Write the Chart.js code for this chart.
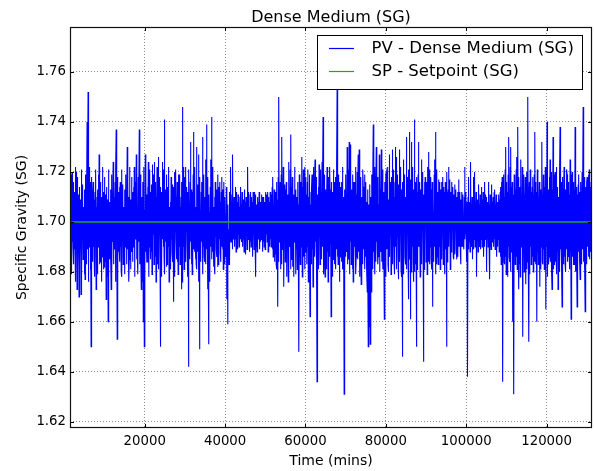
<!DOCTYPE html>
<html><head><meta charset="utf-8">
<script src="https://cdn.jsdelivr.net/npm/chart.js@4"></script>
<style>html,body{margin:0;padding:0;background:#fff}#wrap{width:594px;height:471px}</style>
</head><body><div id="wrap"><canvas id="c" width="594" height="471"></canvas></div>
<script>
const chartTitle = 'Dense Medium (SG)';
const xLabel = 'Time (mins)';
const yLabel = 'Specific Gravity (SG)';
const pvLabel = 'PV - Dense Medium (SG)';
const spLabel = 'SP - Setpoint (SG)';

// PV sampled every pvStep minutes starting at pvStart
const pvStart = 1400, pvStep = 83.3;
const pvValues = [
1.712,1.686,1.713,1.683,1.719,1.679,1.720,1.692,1.707,1.690,1.716,1.683,1.712,1.689,1.710,1.688,1.722,1.676,1.720,1.694,1.705,1.673,1.718,1.681,1.700,1.688,1.711,1.670,1.714,1.684,
1.706,1.690,1.709,1.671,1.721,1.678,1.708,1.693,1.715,1.685,1.706,1.686,1.703,1.679,1.713,1.677,1.719,1.692,1.708,1.683,1.707,1.740,1.689,1.716,1.752,1.676,1.710,1.690,1.722,1.694,
1.716,1.681,1.705,1.650,1.718,1.688,1.705,1.684,1.711,1.716,1.690,1.714,1.686,1.709,1.678,1.712,1.693,1.721,1.673,1.706,1.685,1.710,1.679,1.713,1.690,1.719,1.692,1.727,1.683,1.707,
1.684,1.716,1.689,1.708,1.676,1.710,1.686,1.722,1.694,1.712,1.681,1.705,1.682,1.718,1.688,1.702,1.684,1.711,1.669,1.714,1.690,1.700,1.678,1.709,1.660,1.721,1.693,1.708,1.685,1.706,
1.694,1.713,1.686,1.673,1.719,1.679,1.700,1.692,1.707,1.724,1.683,1.716,1.690,1.710,1.689,1.716,1.676,1.722,1.737,1.694,1.705,1.653,1.718,1.681,1.712,1.688,1.711,1.690,1.714,1.684,
1.716,1.690,1.709,1.680,1.721,1.678,1.710,1.693,1.715,1.683,1.706,1.686,1.704,1.679,1.713,1.690,1.719,1.692,1.712,1.683,1.707,1.730,1.689,1.716,1.695,1.710,1.676,1.685,1.722,1.694,
1.709,1.681,1.705,1.692,1.718,1.688,1.712,1.684,1.711,1.690,1.714,1.690,1.722,1.678,1.709,1.696,1.716,1.693,1.727,1.685,1.721,1.688,1.706,1.679,1.718,1.692,1.713,1.737,1.683,1.707,
1.684,1.719,1.686,1.673,1.710,1.689,1.701,1.676,1.716,1.660,1.722,1.694,1.650,1.705,1.681,1.727,1.688,1.718,1.692,1.711,1.684,1.684,1.714,1.690,1.724,1.678,1.709,1.690,1.721,1.693,
1.712,1.685,1.706,1.688,1.715,1.679,1.723,1.692,1.713,1.695,1.719,1.683,1.724,1.689,1.707,1.686,1.716,1.676,1.710,1.694,1.722,1.683,1.705,1.688,1.726,1.681,1.718,1.700,1.711,1.684,
1.650,1.714,1.690,1.712,1.678,1.709,1.724,1.693,1.721,1.690,1.716,1.686,1.741,1.679,1.713,1.700,1.692,1.707,1.682,1.719,1.683,1.714,1.689,1.710,1.690,1.722,1.676,1.681,1.706,1.694,
1.708,1.681,1.718,1.693,1.711,1.688,1.715,1.684,1.705,1.668,1.714,1.690,1.720,1.678,1.709,1.696,1.721,1.693,1.710,1.685,1.716,1.684,1.707,1.679,1.719,1.692,1.713,1.690,1.719,1.683,
1.706,1.689,1.710,1.673,1.716,1.676,1.746,1.694,1.722,1.690,1.705,1.681,1.683,1.718,1.688,1.722,1.684,1.711,1.696,1.714,1.690,1.712,1.678,1.709,1.642,1.721,1.693,1.700,1.685,1.716,
1.732,1.692,1.707,1.683,1.713,1.679,1.712,1.686,1.719,1.736,1.689,1.710,1.688,1.722,1.694,1.685,1.706,1.683,1.730,1.681,1.715,1.700,1.688,1.711,1.727,1.676,1.714,1.649,1.718,1.690,
1.700,1.684,1.712,1.716,1.692,1.707,1.734,1.679,1.716,1.690,1.719,1.686,1.684,1.710,1.693,1.725,1.683,1.721,1.739,1.689,1.705,1.673,1.718,1.681,1.651,1.711,1.688,1.704,1.676,1.714,
1.725,1.690,1.713,1.742,1.685,1.709,1.688,1.722,1.692,1.682,1.706,1.684,1.710,1.679,1.716,1.694,1.714,1.689,1.713,1.686,1.707,1.682,1.719,1.683,1.714,1.693,1.710,1.693,1.716,1.688,
1.708,1.684,1.712,1.718,1.690,1.706,1.689,1.713,1.681,1.716,1.693,1.710,1.683,1.709,1.687,1.700,1.686,1.714,1.669,1.711,1.690,1.659,1.707,1.688,1.697,1.683,1.712,1.683,1.710,1.692,
1.722,1.692,1.708,1.700,1.711,1.689,1.727,1.695,1.706,1.693,1.710,1.690,1.698,1.707,1.693,1.714,1.688,1.712,1.690,1.708,1.692,1.689,1.711,1.695,1.708,1.690,1.706,1.697,1.710,1.693,
1.714,1.695,1.707,1.692,1.712,1.690,1.690,1.706,1.693,1.709,1.688,1.711,1.713,1.692,1.708,1.687,1.710,1.695,1.702,1.689,1.707,1.722,1.693,1.712,1.694,1.706,1.690,1.688,1.711,1.692,
1.712,1.690,1.710,1.698,1.708,1.693,1.686,1.712,1.695,1.707,1.689,1.706,1.712,1.692,1.711,1.678,1.707,1.690,1.700,1.688,1.710,1.710,1.695,1.708,1.693,1.712,1.689,1.689,1.706,1.692,
1.708,1.693,1.711,1.696,1.710,1.688,1.690,1.707,1.692,1.710,1.690,1.708,1.702,1.689,1.712,1.693,1.711,1.695,1.706,1.692,1.707,1.712,1.688,1.710,1.695,1.708,1.690,1.693,1.712,1.693,
1.708,1.690,1.711,1.697,1.714,1.689,1.718,1.686,1.707,1.693,1.713,1.692,1.684,1.710,1.687,1.712,1.683,1.716,1.681,1.709,1.690,1.666,1.718,1.684,1.750,1.692,1.712,1.694,1.716,1.681,
1.690,1.719,1.683,1.734,1.689,1.710,1.697,1.722,1.679,1.674,1.707,1.692,1.715,1.684,1.713,1.696,1.716,1.686,1.678,1.711,1.690,1.708,1.676,1.718,1.724,1.693,1.709,1.690,1.721,1.681,
1.735,1.685,1.714,1.694,1.718,1.688,1.682,1.706,1.678,1.711,1.692,1.722,1.696,1.713,1.684,1.679,1.710,1.689,1.705,1.681,1.716,1.709,1.694,1.707,1.648,1.719,1.686,1.702,1.683,1.711,
1.716,1.690,1.709,1.726,1.678,1.714,1.690,1.721,1.693,1.686,1.705,1.681,1.722,1.688,1.718,1.694,1.711,1.684,1.683,1.716,1.690,1.721,1.676,1.710,1.696,1.719,1.692,1.662,1.707,1.685,
1.712,1.683,1.713,1.719,1.689,1.707,1.674,1.722,1.679,1.704,1.686,1.716,1.725,1.692,1.710,1.690,1.718,1.684,1.636,1.711,1.690,1.700,1.714,1.681,1.723,1.694,1.709,1.683,1.721,1.688,
1.712,1.685,1.706,1.724,1.690,1.716,1.742,1.679,1.711,1.695,1.719,1.684,1.678,1.713,1.692,1.712,1.681,1.709,1.722,1.688,1.714,1.676,1.718,1.683,1.700,1.686,1.722,1.713,1.691,1.707,
1.662,1.716,1.684,1.712,1.678,1.710,1.685,1.721,1.690,1.716,1.683,1.713,1.694,1.718,1.681,1.710,1.689,1.722,1.753,1.686,1.707,1.683,1.719,1.692,1.716,1.676,1.711,1.686,1.714,1.688,
1.712,1.684,1.716,1.693,1.722,1.681,1.684,1.710,1.690,1.631,1.713,1.679,1.711,1.686,1.719,1.692,1.707,1.688,1.730,1.683,1.714,1.690,1.721,1.685,1.732,1.679,1.709,1.731,1.692,1.718,
1.683,1.713,1.688,1.702,1.681,1.719,1.676,1.716,1.684,1.716,1.690,1.710,1.696,1.722,1.679,1.686,1.711,1.692,1.720,1.685,1.714,1.727,1.688,1.707,1.729,1.678,1.716,1.684,1.718,1.686,
1.675,1.710,1.690,1.706,1.683,1.721,1.714,1.689,1.712,1.694,1.719,1.681,1.713,1.686,1.716,1.690,1.708,1.679,1.672,1.713,1.684,1.650,1.707,1.676,1.658,1.715,1.681,1.651,1.710,1.686,
1.672,1.719,1.690,1.712,1.681,1.716,1.739,1.688,1.710,1.688,1.722,1.679,1.705,1.684,1.714,1.730,1.692,1.711,1.690,1.718,1.683,1.689,1.707,1.686,1.727,1.680,1.719,1.693,1.713,1.688,
1.729,1.684,1.710,1.700,1.721,1.681,1.683,1.712,1.690,1.661,1.716,1.685,1.705,1.678,1.719,1.720,1.689,1.713,1.695,1.722,1.683,1.680,1.709,1.688,1.727,1.686,1.716,1.700,1.714,1.679,
1.681,1.718,1.692,1.729,1.683,1.711,1.690,1.721,1.684,1.710,1.679,1.716,1.730,1.690,1.709,1.726,1.681,1.719,1.694,1.712,1.686,1.677,1.715,1.688,1.729,1.684,1.710,1.700,1.722,1.681,
1.678,1.713,1.689,1.646,1.716,1.683,1.725,1.679,1.711,1.700,1.719,1.686,1.683,1.710,1.692,1.734,1.681,1.718,1.700,1.714,1.684,1.669,1.721,1.688,1.736,1.685,1.713,1.661,1.717,1.680,
1.732,1.686,1.710,1.690,1.722,1.684,1.676,1.713,1.690,1.741,1.680,1.716,1.683,1.711,1.687,1.650,1.718,1.681,1.712,1.684,1.719,1.732,1.690,1.709,1.690,1.716,1.678,1.682,1.713,1.689,
1.725,1.683,1.714,1.700,1.720,1.686,1.644,1.711,1.681,1.716,1.688,1.718,1.700,1.713,1.684,1.690,1.716,1.679,1.722,1.689,1.710,1.728,1.684,1.721,1.683,1.712,1.690,1.700,1.718,1.685,
1.713,1.681,1.716,1.666,1.710,1.688,1.703,1.684,1.719,1.725,1.690,1.711,1.736,1.679,1.714,1.683,1.721,1.686,1.700,1.712,1.683,1.717,1.688,1.709,1.690,1.716,1.681,1.686,1.713,1.690,
1.716,1.685,1.710,1.700,1.718,1.683,1.683,1.714,1.690,1.712,1.679,1.716,1.702,1.689,1.711,1.650,1.720,1.684,1.712,1.686,1.713,1.722,1.690,1.708,1.696,1.717,1.681,1.684,1.712,1.688,
1.716,1.688,1.710,1.698,1.714,1.686,1.685,1.711,1.691,1.715,1.687,1.709,1.700,1.713,1.689,1.685,1.710,1.692,1.712,1.686,1.712,1.717,1.690,1.708,1.690,1.712,1.688,1.683,1.709,1.691,
1.712,1.690,1.707,1.690,1.711,1.692,1.702,1.689,1.710,1.722,1.693,1.706,1.695,1.712,1.690,1.684,1.708,1.693,1.638,1.710,1.689,1.718,1.692,1.708,1.700,1.688,1.711,1.724,1.693,1.707,
1.690,1.710,1.692,1.685,1.707,1.689,1.718,1.693,1.711,1.720,1.690,1.708,1.694,1.712,1.691,1.678,1.709,1.693,1.704,1.688,1.710,1.715,1.692,1.707,1.690,1.711,1.689,1.700,1.693,1.708,
1.714,1.690,1.709,1.694,1.712,1.692,1.686,1.707,1.690,1.716,1.693,1.711,1.700,1.710,1.689,1.680,1.708,1.693,1.708,1.690,1.712,1.716,1.692,1.707,1.677,1.711,1.690,1.700,1.689,1.709,
1.715,1.692,1.708,1.696,1.710,1.690,1.690,1.712,1.693,1.713,1.689,1.707,1.700,1.711,1.692,1.686,1.708,1.690,1.705,1.693,1.710,1.711,1.688,1.709,1.692,1.712,1.686,1.714,1.683,1.716,
1.687,1.718,1.681,1.636,1.713,1.689,1.719,1.684,1.710,1.683,1.721,1.686,1.730,1.679,1.716,1.700,1.712,1.683,1.678,1.719,1.690,1.734,1.686,1.711,1.684,1.722,1.680,1.730,1.688,1.714,
1.690,1.716,1.684,1.660,1.711,1.679,1.631,1.719,1.688,1.717,1.683,1.713,1.700,1.721,1.686,1.726,1.681,1.710,1.738,1.689,1.718,1.673,1.714,1.683,1.714,1.678,1.716,1.725,1.690,1.709,
1.690,1.722,1.683,1.654,1.713,1.689,1.719,1.680,1.711,1.700,1.718,1.686,1.675,1.710,1.681,1.720,1.684,1.719,1.750,1.688,1.714,1.652,1.716,1.679,1.700,1.721,1.690,1.720,1.683,1.712,
1.690,1.714,1.686,1.718,1.680,1.711,1.700,1.719,1.684,1.736,1.689,1.716,1.683,1.712,1.679,1.660,1.721,1.688,1.720,1.683,1.710,1.700,1.716,1.686,1.674,1.713,1.681,1.712,1.690,1.718,
1.732,1.684,1.711,1.683,1.719,1.689,1.716,1.681,1.714,1.696,1.722,1.684,1.665,1.710,1.690,1.740,1.678,1.716,1.690,1.713,1.683,1.686,1.718,1.688,1.725,1.684,1.709,1.700,1.720,1.681,
1.673,1.713,1.686,1.734,1.681,1.716,1.683,1.719,1.690,1.720,1.684,1.711,1.690,1.722,1.679,1.712,1.688,1.714,1.673,1.710,1.684,1.700,1.680,1.718,1.738,1.689,1.712,1.690,1.716,1.683,
1.666,1.718,1.688,1.712,1.683,1.710,1.722,1.686,1.716,1.683,1.713,1.680,1.710,1.689,1.721,1.719,1.684,1.712,1.694,1.716,1.686,1.690,1.711,1.681,1.725,1.688,1.714,1.661,1.719,1.684,
1.720,1.686,1.710,1.700,1.716,1.683,1.683,1.713,1.689,1.738,1.680,1.718,1.690,1.714,1.686,1.666,1.711,1.681,1.715,1.688,1.719,1.700,1.712,1.684,1.677,1.716,1.690,1.712,1.683,1.711,
1.720,1.689,1.713,1.746,1.684,1.710,1.690,1.718,1.681,1.664,1.714,1.688,1.712,1.683,1.716,1.718,1.690,1.711,1.700,1.719,1.686,1.721,1.685,1.712,1.692,1.714,1.688,1.716,1.690,1.708
];
const spTimes = [1400, 131300];
const spValues = [1.70, 1.70];

const xTicks = [20000, 40000, 60000, 80000, 100000, 120000];
const yTicks = [1.62, 1.64, 1.66, 1.68, 1.70, 1.72, 1.74, 1.76];
const xRange = [1400, 131300];
const yRange = [1.6175, 1.778];

const FONT = "'DejaVu Sans', sans-serif";
const pvColor = '#0000ff', spColor = '#22a030';

const pvData = pvValues.map((v, i) => ({ x: pvStart + i * pvStep, y: v }));
const spData = spValues.map((v, i) => ({ x: spTimes[i], y: v }));

const deco = {
  id: 'deco',
  afterDraw(chart) {
    const { ctx, chartArea: a, scales: { x, y } } = chart;
    ctx.save();
    ctx.strokeStyle = '#000'; ctx.lineWidth = 1;
    ctx.beginPath();
    xTicks.forEach(v => {
      const px = Math.round(x.getPixelForValue(v)) + 0.5;
      ctx.moveTo(px, a.bottom); ctx.lineTo(px, a.bottom - 4);
      ctx.moveTo(px, a.top); ctx.lineTo(px, a.top + 4);
    });
    yTicks.forEach(v => {
      const py = Math.round(y.getPixelForValue(v)) + 0.5;
      ctx.moveTo(a.left, py); ctx.lineTo(a.left + 4, py);
      ctx.moveTo(a.right, py); ctx.lineTo(a.right - 4, py);
    });
    ctx.stroke();
    ctx.strokeStyle = '#111'; ctx.lineWidth = 1.2;
    ctx.strokeRect(a.left + 0.5, a.top + 0.5, a.right - a.left - 1, a.bottom - a.top - 1);
    ctx.fillStyle = '#000';
    ctx.textAlign = 'center'; ctx.textBaseline = 'alphabetic';
    ctx.font = '16px ' + FONT;
    ctx.fillText(chartTitle, (a.left + a.right) / 2, 21.5);
    ctx.font = '14px ' + FONT;
    ctx.fillText(xLabel, (a.left + a.right) / 2, 465);
    ctx.save();
    ctx.translate(26, (a.top + a.bottom) / 2);
    ctx.rotate(-Math.PI / 2);
    ctx.fillText(yLabel, 0, 0);
    ctx.restore();
    const lx = 317.5, ly = 35.5, lw = 265, lh = 54;
    ctx.fillStyle = '#fff';
    ctx.fillRect(lx, ly, lw, lh);
    ctx.strokeStyle = '#000'; ctx.lineWidth = 1;
    ctx.strokeRect(lx, ly, lw, lh);
    const rows = [48.5, 71.5];
    ctx.font = '16.5px ' + FONT;
    ctx.textAlign = 'left'; ctx.textBaseline = 'middle';
    chart.data.datasets.forEach((ds, i) => {
      ctx.strokeStyle = ds.borderColor; ctx.lineWidth = 1.2;
      ctx.beginPath(); ctx.moveTo(329, rows[i]); ctx.lineTo(354, rows[i]); ctx.stroke();
      ctx.fillStyle = '#000';
      ctx.fillText(ds.label, 371.5, rows[i] + 0.5);
    });
    ctx.restore();
  }
};

new Chart(document.getElementById('c'), {
  type: 'line',
  data: {
    datasets: [
      { label: pvLabel, data: pvData, borderColor: pvColor, borderWidth: 1.1, pointRadius: 0, tension: 0, fill: false, order: 1 },
      { label: spLabel, data: spData, borderColor: spColor, borderWidth: 1.5, pointRadius: 0, tension: 0, fill: false, order: 0 }
    ]
  },
  options: {
    responsive: false,
    animation: false,
    events: [],
    layout: { padding: { left: 0, right: 2, top: 27, bottom: 0 } },
    plugins: { legend: { display: false }, title: { display: false }, tooltip: { enabled: false } },
    scales: {
      x: {
        type: 'linear', min: xRange[0], max: xRange[1],
        afterBuildTicks: s => { s.ticks = xTicks.map(v => ({ value: v })); },
        afterFit: s => { s.height = 43; },
        ticks: { color: '#000', font: { family: FONT, size: 13.3 }, padding: 6, maxRotation: 0, autoSkip: false, callback: v => String(v) },
        grid: { color: '#8a8a8a', lineWidth: 1, drawTicks: false },
        border: { display: false, dash: [1, 2] }
      },
      y: {
        type: 'linear', min: yRange[0], max: yRange[1],
        afterBuildTicks: s => { s.ticks = yTicks.map(v => ({ value: v })); },
        afterFit: s => { s.width = 70; },
        ticks: { color: '#000', font: { family: FONT, size: 13.3 }, padding: 4, autoSkip: false, callback: v => Number(v).toFixed(2) },
        grid: { color: '#8a8a8a', lineWidth: 1, drawTicks: false },
        border: { display: false, dash: [1, 2] }
      }
    }
  },
  plugins: [deco]
});
</script></body></html>
